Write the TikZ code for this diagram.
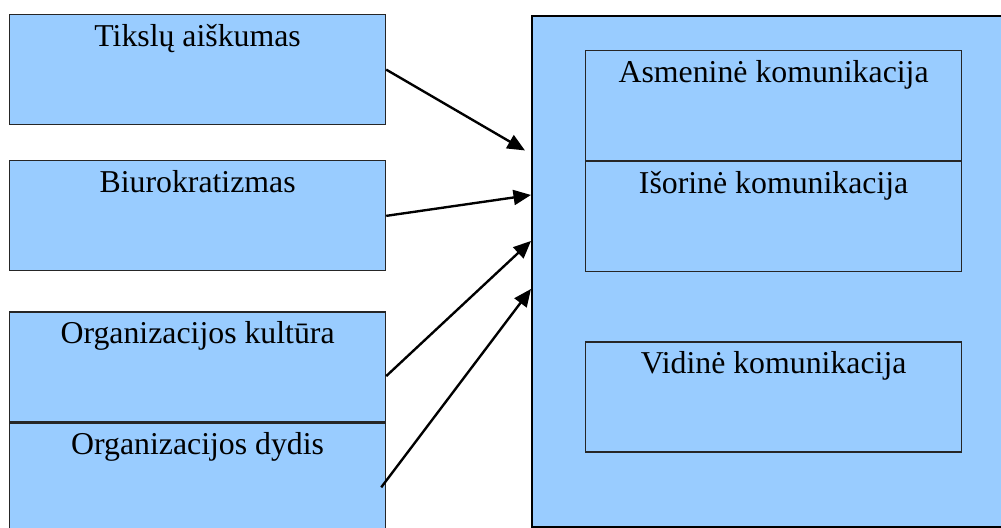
\documentclass[tikz,border=0pt]{standalone}
\usepackage{fontspec}
\setmainfont{Liberation Serif}
\usetikzlibrary{arrows.meta, positioning, calc}
\definecolor{boxblue}{HTML}{99CCFF}

\begin{document}
\begin{tikzpicture}[
    node distance=0.7cm,
    box/.style={draw=black!85, fill=boxblue, line width=0.7pt, minimum width=7.52cm, inner xsep=0pt, inner ysep=0pt, text height=0.63cm, text depth=1.57cm, font=\fontsize{18.1}{21}\selectfont, anchor=north west},
    outer/.style={draw=black, fill=boxblue, line width=1.1pt, minimum width=10cm, minimum height=10.22cm, anchor=north west},
    arrow/.style={-{Triangle[length=0.35cm, width=0.3cm]}, line width=1.35pt},
]
\useasboundingbox (0,0) rectangle (20.02,-10.56);
\clip (0,0) rectangle (20.02,-10.56);

% factors
\node[box] (aisk) at (0.18,-0.28) {Tikslų aiškumas};
\node[box, below=0.7cm of aisk] (biur) {Biurokratizmas};
\node[box, below=0.8cm of biur] (kult) {Organizacijos kultūra};
\node[box, below=0cm of kult] (dydis) {Organizacijos dydis};

% communication
\node[outer] (org) at (10.62,-0.3) {};
\node[box] (asmen) at (11.7,-1.0) {Asmeninė komunikacija};
\node[box, below=0cm of asmen] (isor) {Išorinė komunikacija};
\node[box, below=1.38cm of isor] (vidin) {Vidinė komunikacija};

\draw[arrow, shorten >=0.14cm] (aisk.east) -- ([yshift=2.35cm]org.west);
\draw[arrow] (biur.east) -- ([yshift=1.53cm]org.west);
\draw[arrow] ([yshift=-0.18cm]kult.east) -- ([yshift=0.61cm]org.west);
\draw[arrow] ([xshift=-0.1cm, yshift=-0.18cm]dydis.east) -- ([yshift=-0.35cm]org.west);
\end{tikzpicture}
\end{document}
